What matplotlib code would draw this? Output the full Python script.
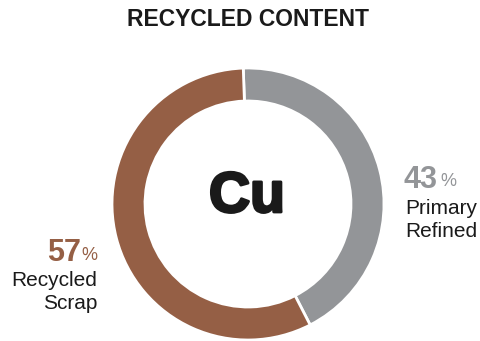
import matplotlib
matplotlib.use('Agg')
import matplotlib.pyplot as plt
import matplotlib.patheffects as pe

labels = ['Primary\nRefined', 'Recycled\nScrap']
values = [43, 57]
colors = ['#939598', '#955f45']

W, H = 481, 341
plt.rcParams['font.family'] = ['Liberation Sans', 'DejaVu Sans']
dark = '#1a1a1a'

fig = plt.figure(figsize=(W / 100, H / 100), dpi=100)
ax = fig.add_axes([0, 0, 1, 1])

ax.pie(values, colors=colors, startangle=92, counterclock=False,
       center=(248, H - 204), radius=136,
       wedgeprops=dict(width=33, edgecolor='white', linewidth=2))
ax.set_xlim(0, W)
ax.set_ylim(0, H)
ax.set_aspect('equal')
ax.axis('off')

ax.text(248, H - 19, 'RECYCLED CONTENT', ha='center', va='center',
        fontsize=16.5, fontweight='bold', color=dark)
ax.text(247, H - 197, 'Cu', ha='center', va='center',
        fontsize=41, fontweight='bold', color=dark,
        path_effects=[pe.withStroke(linewidth=2, foreground=dark)])

# right label (primary)
ax.text(404, H - 180, f'{values[0]}', ha='left', va='center',
        fontsize=22, fontweight='bold', color=colors[0])
ax.text(440, H - 182, '%', ha='left', va='center', fontsize=13, color=colors[0])
ax.text(405, H - 220, labels[0], ha='left', va='center', fontsize=15,
        color=dark, linespacing=1.28)

# left label (recycled)
ax.text(97, H - 255, '%', ha='right', va='center', fontsize=13, color=colors[1])
ax.text(81, H - 253, f'{values[1]}', ha='right', va='center',
        fontsize=22, fontweight='bold', color=colors[1])
ax.text(97, H - 292, labels[1], ha='right', va='center', fontsize=15,
        color=dark, linespacing=1.28, multialignment='right')

fig.savefig('out.png', dpi=100)
